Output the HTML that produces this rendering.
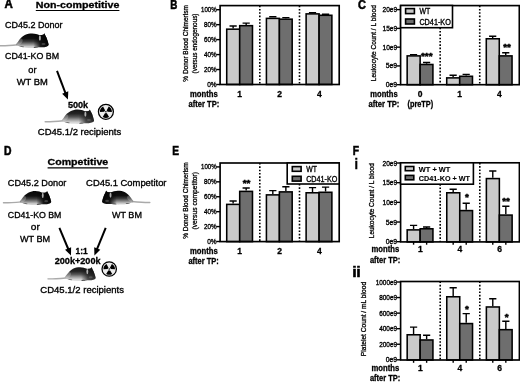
<!DOCTYPE html>
<html lang="en">
<head>
<meta charset="utf-8">
<title>CD41-KO bone marrow transplantation: non-competitive and competitive</title>
<style>
html,body{margin:0;padding:0;background:#fff;}
body{width:520px;height:382px;overflow:hidden;}
svg{display:block;filter:blur(0.42px);}
svg text{font-family:"Liberation Sans", Arial, sans-serif;}
</style>
</head>
<body>
<svg width="520" height="382" viewBox="0 0 520 382">
<rect width="520" height="382" fill="#fff"/>
<defs>
<linearGradient id="mhead0" x1="0" y1="0" x2="1" y2="0"><stop offset="0" stop-color="#000" stop-opacity="0"/><stop offset="0.42" stop-color="#0a0a0a" stop-opacity="0.9"/><stop offset="1" stop-color="#000" stop-opacity="1"/></linearGradient>
<linearGradient id="mhead1" x1="0" y1="0" x2="1" y2="0"><stop offset="0" stop-color="#111" stop-opacity="0"/><stop offset="0.42" stop-color="#181818" stop-opacity="0.72"/><stop offset="1" stop-color="#101010" stop-opacity="0.88"/></linearGradient>
<clipPath id="mclip"><path d="M-0.30,11.40 C-0.35,10.65 1.05,9.17 1.90,8.00 C2.75,6.83 3.70,5.45 4.80,4.40 C5.90,3.35 7.27,2.37 8.50,1.70 C9.73,1.03 10.95,0.68 12.20,0.40 C13.45,0.12 14.75,-0.03 16.00,0.00 C17.25,0.03 18.58,0.32 19.70,0.60 C20.82,0.88 21.72,1.52 22.70,1.70 C23.68,1.88 24.83,1.78 25.60,1.70 C26.37,1.62 26.88,1.50 27.30,1.20 C27.72,0.90 28.10,-0.10 28.10,-0.10 C28.10,-0.10 28.58,1.13 28.90,1.80 C29.22,2.47 29.63,3.07 30.00,3.90 C30.37,4.73 30.75,5.78 31.10,6.80 C31.45,7.82 31.90,9.18 32.10,10.00 C32.30,10.82 32.53,11.20 32.30,11.70 C32.07,12.20 31.58,12.65 30.70,13.00 C29.82,13.35 28.33,13.65 27.00,13.80 C25.67,13.95 24.15,13.78 22.70,13.90 C21.25,14.02 20.02,14.40 18.30,14.50 C16.58,14.60 14.35,14.62 12.40,14.50 C10.45,14.38 8.30,14.13 6.60,13.80 C4.90,13.47 3.35,12.90 2.20,12.50 C1.05,12.10 -0.25,12.15 -0.30,11.40 Z"/></clipPath>
<linearGradient id="mg0" x1="0" y1="0" x2="0" y2="1"><stop offset="0" stop-color="#060606"/><stop offset="0.36" stop-color="#101010"/><stop offset="0.56" stop-color="#3e3e3e"/><stop offset="0.74" stop-color="#848484"/><stop offset="0.9" stop-color="#c8c8c8"/><stop offset="1" stop-color="#dadada"/></linearGradient>
<g id="mouse0">
<path d="M-0.30,11.40 C-0.35,10.65 1.05,9.17 1.90,8.00 C2.75,6.83 3.70,5.45 4.80,4.40 C5.90,3.35 7.27,2.37 8.50,1.70 C9.73,1.03 10.95,0.68 12.20,0.40 C13.45,0.12 14.75,-0.03 16.00,0.00 C17.25,0.03 18.58,0.32 19.70,0.60 C20.82,0.88 21.72,1.52 22.70,1.70 C23.68,1.88 24.83,1.78 25.60,1.70 C26.37,1.62 26.88,1.50 27.30,1.20 C27.72,0.90 28.10,-0.10 28.10,-0.10 C28.10,-0.10 28.58,1.13 28.90,1.80 C29.22,2.47 29.63,3.07 30.00,3.90 C30.37,4.73 30.75,5.78 31.10,6.80 C31.45,7.82 31.90,9.18 32.10,10.00 C32.30,10.82 32.53,11.20 32.30,11.70 C32.07,12.20 31.58,12.65 30.70,13.00 C29.82,13.35 28.33,13.65 27.00,13.80 C25.67,13.95 24.15,13.78 22.70,13.90 C21.25,14.02 20.02,14.40 18.30,14.50 C16.58,14.60 14.35,14.62 12.40,14.50 C10.45,14.38 8.30,14.13 6.60,13.80 C4.90,13.47 3.35,12.90 2.20,12.50 C1.05,12.10 -0.25,12.15 -0.30,11.40 Z" fill="url(#mg0)"/>
<g clip-path="url(#mclip)">
<rect x="17" y="-1" width="17" height="17" fill="url(#mhead0)"/>
<ellipse cx="5.2" cy="13.6" rx="2.6" ry="0.8" fill="#2a2a2a" opacity="0.75"/>
<ellipse cx="19.5" cy="14.0" rx="2.2" ry="0.7" fill="#2a2a2a" opacity="0.7"/>
<ellipse cx="23.6" cy="4.6" rx="1.0" ry="2.7" fill="#c0c0c0" opacity="0.9"/>
<ellipse cx="3.2" cy="8.2" rx="2.6" ry="3.6" fill="#fff" opacity="0.22" transform="rotate(38 3.2 8.2)"/>
<ellipse cx="27.2" cy="10.6" rx="2.0" ry="1.1" fill="#888" opacity="0.4"/>
</g></g>
<linearGradient id="mg1" x1="0" y1="0" x2="0" y2="1"><stop offset="0" stop-color="#141414"/><stop offset="0.3" stop-color="#242424"/><stop offset="0.52" stop-color="#555"/><stop offset="0.7" stop-color="#999"/><stop offset="0.88" stop-color="#d4d4d4"/><stop offset="1" stop-color="#e2e2e2"/></linearGradient>
<g id="mouse1">
<path d="M-0.30,11.40 C-0.35,10.65 1.05,9.17 1.90,8.00 C2.75,6.83 3.70,5.45 4.80,4.40 C5.90,3.35 7.27,2.37 8.50,1.70 C9.73,1.03 10.95,0.68 12.20,0.40 C13.45,0.12 14.75,-0.03 16.00,0.00 C17.25,0.03 18.58,0.32 19.70,0.60 C20.82,0.88 21.72,1.52 22.70,1.70 C23.68,1.88 24.83,1.78 25.60,1.70 C26.37,1.62 26.88,1.50 27.30,1.20 C27.72,0.90 28.10,-0.10 28.10,-0.10 C28.10,-0.10 28.58,1.13 28.90,1.80 C29.22,2.47 29.63,3.07 30.00,3.90 C30.37,4.73 30.75,5.78 31.10,6.80 C31.45,7.82 31.90,9.18 32.10,10.00 C32.30,10.82 32.53,11.20 32.30,11.70 C32.07,12.20 31.58,12.65 30.70,13.00 C29.82,13.35 28.33,13.65 27.00,13.80 C25.67,13.95 24.15,13.78 22.70,13.90 C21.25,14.02 20.02,14.40 18.30,14.50 C16.58,14.60 14.35,14.62 12.40,14.50 C10.45,14.38 8.30,14.13 6.60,13.80 C4.90,13.47 3.35,12.90 2.20,12.50 C1.05,12.10 -0.25,12.15 -0.30,11.40 Z" fill="url(#mg1)"/>
<g clip-path="url(#mclip)">
<rect x="17" y="-1" width="17" height="17" fill="url(#mhead1)"/>
<ellipse cx="5.2" cy="13.6" rx="2.6" ry="0.8" fill="#2a2a2a" opacity="0.75"/>
<ellipse cx="19.5" cy="14.0" rx="2.2" ry="0.7" fill="#2a2a2a" opacity="0.7"/>
<ellipse cx="23.6" cy="4.6" rx="1.0" ry="2.7" fill="#c0c0c0" opacity="0.9"/>
<ellipse cx="3.2" cy="8.2" rx="2.6" ry="3.6" fill="#fff" opacity="0.22" transform="rotate(38 3.2 8.2)"/>
<ellipse cx="27.2" cy="10.6" rx="2.0" ry="1.1" fill="#888" opacity="0.4"/>
</g></g>
</defs>
<text x="4.40" y="8.30" font-size="12.2" stroke="#000" stroke-width="0.55" font-weight="bold" textLength="8.30" lengthAdjust="spacingAndGlyphs">A</text>
<text x="170.30" y="8.60" font-size="12.2" stroke="#000" stroke-width="0.55" font-weight="bold" textLength="7.10" lengthAdjust="spacingAndGlyphs">B</text>
<text x="358.00" y="9.10" font-size="12.2" stroke="#000" stroke-width="0.55" font-weight="bold" textLength="7.90" lengthAdjust="spacingAndGlyphs">C</text>
<text x="3.90" y="154.80" font-size="12.2" stroke="#000" stroke-width="0.55" font-weight="bold" textLength="7.50" lengthAdjust="spacingAndGlyphs">D</text>
<text x="172.30" y="154.90" font-size="12.2" stroke="#000" stroke-width="0.55" font-weight="bold" textLength="6.80" lengthAdjust="spacingAndGlyphs">E</text>
<text x="352.80" y="154.80" font-size="12.2" stroke="#000" stroke-width="0.55" font-weight="bold" textLength="6.30" lengthAdjust="spacingAndGlyphs">F</text>
<text x="354.70" y="169.40" font-size="14.6" stroke="#000" stroke-width="0.7" font-weight="bold" textLength="3.10" lengthAdjust="spacingAndGlyphs">i</text>
<text x="352.50" y="276.80" font-size="14.6" stroke="#000" stroke-width="0.7" font-weight="bold" textLength="7.90" lengthAdjust="spacingAndGlyphs">ii</text>
<text x="35.80" y="7.90" font-size="9.8" stroke="#000" stroke-width="0.3" font-weight="bold" textLength="83.60" lengthAdjust="spacingAndGlyphs">Non-competitive</text>
<line x1="35.8" y1="10.45" x2="119.4" y2="10.45" stroke="#000" stroke-width="1.1"/>
<text x="5.00" y="27.90" font-size="9.5" stroke="#000" stroke-width="0.34" textLength="57.50" lengthAdjust="spacingAndGlyphs">CD45.2 Donor</text>
<g transform="translate(0.00 33.40) scale(1.000)">
<path d="M0.2,12.3 C5,12.5 11,12.0 17.80,11.3" fill="none" stroke="#aaa" stroke-width="1.5" stroke-linecap="round"/>
<use href="#mouse0" x="16.30" y="0"/>
</g>
<text x="5.00" y="59.00" font-size="9.5" stroke="#000" stroke-width="0.34" textLength="54.10" lengthAdjust="spacingAndGlyphs">CD41-KO BM</text>
<text x="28.30" y="72.60" font-size="9.5" stroke="#000" stroke-width="0.34" textLength="8.20" lengthAdjust="spacingAndGlyphs">or</text>
<text x="16.70" y="85.20" font-size="9.5" stroke="#000" stroke-width="0.34" textLength="31.10" lengthAdjust="spacingAndGlyphs">WT BM</text>
<line x1="57.00" y1="70.80" x2="65.56" y2="93.43" stroke="#000" stroke-width="2.0"/>
<polygon points="67.90,99.60 62.12,93.66 68.30,91.32" fill="#000"/>
<text x="67.90" y="107.60" font-size="9.3" stroke="#000" stroke-width="0.3" font-weight="bold" textLength="20.30" lengthAdjust="spacingAndGlyphs">500k</text>
<g transform="translate(45.00 109.50) scale(0.990)">
<path d="M0.2,12.3 C5,12.5 11,12.0 18.70,11.3" fill="none" stroke="#aaa" stroke-width="1.5" stroke-linecap="round"/>
<use href="#mouse1" x="17.20" y="0"/>
</g>
<circle cx="105.9" cy="111.8" r="7.50" fill="#ececec" stroke="#000" stroke-width="1.25"/>
<path d="M106.72,113.11 L109.08,116.88 A5.99,5.99 0 0 1 102.72,116.88 L105.08,113.11 A1.54,1.54 0 0 0 106.72,113.11 Z" fill="#000"/>
<path d="M106.62,110.44 L108.71,106.51 A5.99,5.99 0 0 1 111.89,112.01 L107.44,111.85 A1.54,1.54 0 0 0 106.62,110.44 Z" fill="#000"/>
<path d="M104.36,111.85 L99.91,112.01 A5.99,5.99 0 0 1 103.09,106.51 L105.18,110.44 A1.54,1.54 0 0 0 104.36,111.85 Z" fill="#000"/>
<circle cx="105.9" cy="111.8" r="0.81" fill="#000"/>
<text x="37.80" y="134.50" font-size="9.5" stroke="#000" stroke-width="0.34" textLength="83.40" lengthAdjust="spacingAndGlyphs">CD45.1/2 recipients</text>
<text x="47.60" y="164.90" font-size="9.8" stroke="#000" stroke-width="0.3" font-weight="bold" textLength="60.60" lengthAdjust="spacingAndGlyphs">Competitive</text>
<line x1="47.6" y1="167.9" x2="108.2" y2="167.9" stroke="#000" stroke-width="1.1"/>
<text x="7.80" y="185.80" font-size="9.5" stroke="#000" stroke-width="0.34" textLength="58.50" lengthAdjust="spacingAndGlyphs">CD45.2 Donor</text>
<text x="86.10" y="185.80" font-size="9.5" stroke="#000" stroke-width="0.34" textLength="80.40" lengthAdjust="spacingAndGlyphs">CD45.1 Competitor</text>
<g transform="translate(3.30 191.00) scale(0.960)">
<path d="M0.2,12.3 C5,12.5 11,12.0 19.00,11.3" fill="none" stroke="#aaa" stroke-width="1.5" stroke-linecap="round"/>
<use href="#mouse0" x="17.50" y="0"/>
</g>
<g transform="translate(150.00 190.70) scale(-0.960 0.960)">
<path d="M0.2,12.3 C5,12.5 11,12.0 19.00,11.3" fill="none" stroke="#aaa" stroke-width="1.5" stroke-linecap="round"/>
<use href="#mouse0" x="17.50" y="0"/>
</g>
<text x="7.80" y="217.70" font-size="9.5" stroke="#000" stroke-width="0.34" textLength="53.60" lengthAdjust="spacingAndGlyphs">CD41-KO BM</text>
<text x="112.00" y="217.60" font-size="9.5" stroke="#000" stroke-width="0.34" textLength="29.90" lengthAdjust="spacingAndGlyphs">WT BM</text>
<text x="30.80" y="229.80" font-size="9.5" stroke="#000" stroke-width="0.34" textLength="9.00" lengthAdjust="spacingAndGlyphs">or</text>
<text x="19.90" y="241.90" font-size="9.5" stroke="#000" stroke-width="0.34" textLength="30.30" lengthAdjust="spacingAndGlyphs">WT BM</text>
<line x1="59.40" y1="227.80" x2="68.46" y2="249.51" stroke="#000" stroke-width="2.0"/>
<polygon points="71.00,255.60 65.03,249.86 71.12,247.32" fill="#000"/>
<line x1="105.70" y1="227.80" x2="96.89" y2="249.49" stroke="#000" stroke-width="2.0"/>
<polygon points="94.40,255.60 94.20,247.32 100.32,249.80" fill="#000"/>
<text x="75.50" y="253.70" font-size="9.3" stroke="#000" stroke-width="0.3" font-weight="bold" textLength="12.10" lengthAdjust="spacingAndGlyphs">1:1</text>
<text x="54.70" y="264.10" font-size="9.3" stroke="#000" stroke-width="0.3" font-weight="bold" textLength="45.90" lengthAdjust="spacingAndGlyphs">200k+200k</text>
<g transform="translate(47.80 267.20) scale(0.950)">
<path d="M0.2,12.3 C5,12.5 11,12.0 19.50,11.3" fill="none" stroke="#aaa" stroke-width="1.5" stroke-linecap="round"/>
<use href="#mouse1" x="18.00" y="0"/>
</g>
<circle cx="109.2" cy="269.0" r="7.20" fill="#ececec" stroke="#000" stroke-width="1.25"/>
<path d="M109.99,270.26 L112.26,273.89 A5.77,5.77 0 0 1 106.14,273.89 L108.41,270.26 A1.48,1.48 0 0 0 109.99,270.26 Z" fill="#000"/>
<path d="M109.90,267.69 L111.91,263.90 A5.77,5.77 0 0 1 114.97,269.20 L110.68,269.05 A1.48,1.48 0 0 0 109.90,267.69 Z" fill="#000"/>
<path d="M107.72,269.05 L103.43,269.20 A5.77,5.77 0 0 1 106.49,263.90 L108.50,267.69 A1.48,1.48 0 0 0 107.72,269.05 Z" fill="#000"/>
<circle cx="109.2" cy="269.0" r="0.78" fill="#000"/>
<text x="40.30" y="292.60" font-size="9.5" stroke="#000" stroke-width="0.34" textLength="83.70" lengthAdjust="spacingAndGlyphs">CD45.1/2 recipients</text>
<line x1="259.80" y1="5.60" x2="259.80" y2="84.50" stroke="#000" stroke-width="1.6" stroke-dasharray="1.6 1.72"/>
<line x1="299.50" y1="5.60" x2="299.50" y2="84.50" stroke="#000" stroke-width="1.6" stroke-dasharray="1.6 1.72"/>
<path d="M233.12,28.40 V26.00 M229.53,26.00 H236.72" stroke="#000" stroke-width="1.4" fill="none"/>
<rect x="226.72" y="29.17" width="12.97" height="55.33" fill="#cacaca" stroke="#000" stroke-width="1.55"/>
<path d="M246.17,24.90 V23.10 M242.57,23.10 H249.77" stroke="#000" stroke-width="1.4" fill="none"/>
<rect x="239.70" y="25.67" width="12.78" height="58.83" fill="#6e6e6e" stroke="#000" stroke-width="1.55"/>
<path d="M272.82,17.60 V16.80 M269.22,16.80 H276.43" stroke="#000" stroke-width="1.4" fill="none"/>
<rect x="266.42" y="18.38" width="12.98" height="66.12" fill="#cacaca" stroke="#000" stroke-width="1.55"/>
<path d="M285.87,18.40 V17.60 M282.27,17.60 H289.47" stroke="#000" stroke-width="1.4" fill="none"/>
<rect x="279.40" y="19.17" width="12.78" height="65.32" fill="#6e6e6e" stroke="#000" stroke-width="1.55"/>
<path d="M312.52,13.10 V12.70 M308.92,12.70 H316.12" stroke="#000" stroke-width="1.4" fill="none"/>
<rect x="306.12" y="13.88" width="12.98" height="70.62" fill="#cacaca" stroke="#000" stroke-width="1.55"/>
<path d="M325.57,14.50 V14.30 M321.97,14.30 H329.18" stroke="#000" stroke-width="1.4" fill="none"/>
<rect x="319.10" y="15.28" width="12.78" height="69.22" fill="#6e6e6e" stroke="#000" stroke-width="1.55"/>
<rect x="220.10" y="5.60" width="119.10" height="78.90" fill="none" stroke="#000" stroke-width="1.65"/>
<line x1="216.30" y1="84.50" x2="220.10" y2="84.50" stroke="#000" stroke-width="1.4"/>
<text x="207.20" y="87.02" font-size="7.0" stroke="#000" stroke-width="0.34" textLength="9.40" lengthAdjust="spacingAndGlyphs">0%</text>
<line x1="216.30" y1="69.54" x2="220.10" y2="69.54" stroke="#000" stroke-width="1.4"/>
<text x="204.00" y="72.06" font-size="7.0" stroke="#000" stroke-width="0.34" textLength="12.60" lengthAdjust="spacingAndGlyphs">20%</text>
<line x1="216.30" y1="54.58" x2="220.10" y2="54.58" stroke="#000" stroke-width="1.4"/>
<text x="204.00" y="57.10" font-size="7.0" stroke="#000" stroke-width="0.34" textLength="12.60" lengthAdjust="spacingAndGlyphs">40%</text>
<line x1="216.30" y1="39.62" x2="220.10" y2="39.62" stroke="#000" stroke-width="1.4"/>
<text x="204.00" y="42.14" font-size="7.0" stroke="#000" stroke-width="0.34" textLength="12.60" lengthAdjust="spacingAndGlyphs">60%</text>
<line x1="216.30" y1="24.66" x2="220.10" y2="24.66" stroke="#000" stroke-width="1.4"/>
<text x="204.00" y="27.18" font-size="7.0" stroke="#000" stroke-width="0.34" textLength="12.60" lengthAdjust="spacingAndGlyphs">80%</text>
<line x1="216.30" y1="9.70" x2="220.10" y2="9.70" stroke="#000" stroke-width="1.4"/>
<text x="201.00" y="12.22" font-size="7.0" stroke="#000" stroke-width="0.34" textLength="15.60" lengthAdjust="spacingAndGlyphs">100%</text>
<text x="188.00" y="81.70" font-size="7.3" stroke="#000" stroke-width="0.3" textLength="76.50" lengthAdjust="spacingAndGlyphs" transform="rotate(-90 188.00 81.70)">% Donor Blood Chimerism</text>
<text x="197.00" y="73.40" font-size="7.3" stroke="#000" stroke-width="0.3" textLength="59.90" lengthAdjust="spacingAndGlyphs" transform="rotate(-90 197.00 73.40)">(versus endogenous)</text>
<line x1="440.17" y1="27.70" x2="440.17" y2="84.70" stroke="#000" stroke-width="1.6" stroke-dasharray="1.6 1.72"/>
<line x1="479.73" y1="5.60" x2="479.73" y2="84.70" stroke="#000" stroke-width="1.6" stroke-dasharray="1.6 1.72"/>
<path d="M413.56,55.10 V54.60 M409.96,54.60 H417.16" stroke="#000" stroke-width="1.4" fill="none"/>
<rect x="407.16" y="55.88" width="12.98" height="28.83" fill="#cacaca" stroke="#000" stroke-width="1.55"/>
<path d="M426.61,63.70 V62.50 M423.01,62.50 H430.21" stroke="#000" stroke-width="1.4" fill="none"/>
<rect x="420.13" y="64.48" width="12.78" height="20.23" fill="#6e6e6e" stroke="#000" stroke-width="1.55"/>
<path d="M453.12,77.10 V75.20 M449.52,75.20 H456.73" stroke="#000" stroke-width="1.4" fill="none"/>
<rect x="446.72" y="77.88" width="12.98" height="6.83" fill="#cacaca" stroke="#000" stroke-width="1.55"/>
<path d="M466.18,75.50 V74.40 M462.57,74.40 H469.78" stroke="#000" stroke-width="1.4" fill="none"/>
<rect x="459.70" y="76.28" width="12.78" height="8.43" fill="#6e6e6e" stroke="#000" stroke-width="1.55"/>
<path d="M492.69,38.00 V36.30 M489.09,36.30 H496.29" stroke="#000" stroke-width="1.4" fill="none"/>
<rect x="486.29" y="38.77" width="12.98" height="45.93" fill="#cacaca" stroke="#000" stroke-width="1.55"/>
<path d="M505.74,55.10 V52.70 M502.14,52.70 H509.34" stroke="#000" stroke-width="1.4" fill="none"/>
<rect x="499.27" y="55.88" width="12.77" height="28.83" fill="#6e6e6e" stroke="#000" stroke-width="1.55"/>
<rect x="400.60" y="5.60" width="118.70" height="79.10" fill="none" stroke="#000" stroke-width="1.65"/>
<line x1="396.80" y1="84.70" x2="400.60" y2="84.70" stroke="#000" stroke-width="1.4"/>
<text x="385.70" y="87.22" font-size="7.0" stroke="#000" stroke-width="0.34" textLength="11.40" lengthAdjust="spacingAndGlyphs">0e9</text>
<line x1="396.80" y1="65.92" x2="400.60" y2="65.92" stroke="#000" stroke-width="1.4"/>
<text x="385.70" y="68.44" font-size="7.0" stroke="#000" stroke-width="0.34" textLength="11.40" lengthAdjust="spacingAndGlyphs">5e9</text>
<line x1="396.80" y1="47.15" x2="400.60" y2="47.15" stroke="#000" stroke-width="1.4"/>
<text x="382.50" y="49.67" font-size="7.0" stroke="#000" stroke-width="0.34" textLength="14.60" lengthAdjust="spacingAndGlyphs">10e9</text>
<line x1="396.80" y1="28.38" x2="400.60" y2="28.38" stroke="#000" stroke-width="1.4"/>
<text x="382.50" y="30.89" font-size="7.0" stroke="#000" stroke-width="0.34" textLength="14.60" lengthAdjust="spacingAndGlyphs">15e9</text>
<line x1="396.80" y1="9.60" x2="400.60" y2="9.60" stroke="#000" stroke-width="1.4"/>
<text x="382.50" y="12.12" font-size="7.0" stroke="#000" stroke-width="0.34" textLength="14.60" lengthAdjust="spacingAndGlyphs">20e9</text>
<rect x="400.60" y="5.50" width="51.90" height="22.20" fill="#fff" stroke="#000" stroke-width="1.6"/>
<rect x="405.60" y="8.60" width="8.80" height="5.00" fill="#cacaca" stroke="#000" stroke-width="1.6"/>
<text x="419.40" y="14.20" font-size="8.2" stroke="#000" stroke-width="0.34" textLength="10.80" lengthAdjust="spacingAndGlyphs">WT</text>
<rect x="405.60" y="19.00" width="8.80" height="5.00" fill="#6e6e6e" stroke="#000" stroke-width="1.6"/>
<text x="419.40" y="24.80" font-size="8.2" stroke="#000" stroke-width="0.34" textLength="31.40" lengthAdjust="spacingAndGlyphs">CD41-KO</text>
<text x="376.40" y="81.20" font-size="7.3" stroke="#000" stroke-width="0.3" textLength="76.00" lengthAdjust="spacingAndGlyphs" transform="rotate(-90 376.40 81.20)">Leukocyte Count / L blood</text>
<text x="426.80" y="58.90" font-size="9.9" stroke="#000" stroke-width="0.55" font-weight="bold" text-anchor="middle">***</text>
<text x="507.00" y="49.60" font-size="9.9" stroke="#000" stroke-width="0.55" font-weight="bold" text-anchor="middle">**</text>
<text x="189.90" y="96.70" font-size="8.8" stroke="#000" stroke-width="0.3" font-weight="bold" textLength="27.80" lengthAdjust="spacingAndGlyphs">months</text>
<text x="188.60" y="107.40" font-size="8.8" stroke="#000" stroke-width="0.3" font-weight="bold" textLength="30.60" lengthAdjust="spacingAndGlyphs">after TP:</text>
<text x="370.30" y="96.70" font-size="8.8" stroke="#000" stroke-width="0.3" font-weight="bold" textLength="27.40" lengthAdjust="spacingAndGlyphs">months</text>
<text x="368.50" y="107.40" font-size="8.8" stroke="#000" stroke-width="0.3" font-weight="bold" textLength="30.90" lengthAdjust="spacingAndGlyphs">after TP:</text>
<text x="239.70" y="96.70" font-size="8.5" stroke="#000" stroke-width="0.3" font-weight="bold" text-anchor="middle">1</text>
<text x="279.60" y="96.70" font-size="8.5" stroke="#000" stroke-width="0.3" font-weight="bold" text-anchor="middle">2</text>
<text x="319.40" y="96.70" font-size="8.5" stroke="#000" stroke-width="0.3" font-weight="bold" text-anchor="middle">4</text>
<text x="420.20" y="96.70" font-size="8.5" stroke="#000" stroke-width="0.3" font-weight="bold" text-anchor="middle">0</text>
<text x="459.60" y="96.70" font-size="8.5" stroke="#000" stroke-width="0.3" font-weight="bold" text-anchor="middle">1</text>
<text x="499.30" y="96.70" font-size="8.5" stroke="#000" stroke-width="0.3" font-weight="bold" text-anchor="middle">4</text>
<text x="407.50" y="107.40" font-size="8.8" stroke="#000" stroke-width="0.3" font-weight="bold" textLength="25.70" lengthAdjust="spacingAndGlyphs">(preTP)</text>
<line x1="259.80" y1="163.00" x2="259.80" y2="241.60" stroke="#000" stroke-width="1.6" stroke-dasharray="1.6 1.72"/>
<line x1="299.50" y1="184.00" x2="299.50" y2="241.60" stroke="#000" stroke-width="1.6" stroke-dasharray="1.6 1.72"/>
<path d="M233.12,203.60 V201.00 M229.53,201.00 H236.72" stroke="#000" stroke-width="1.4" fill="none"/>
<rect x="226.72" y="204.38" width="12.97" height="37.23" fill="#cacaca" stroke="#000" stroke-width="1.55"/>
<path d="M246.17,190.60 V188.00 M242.57,188.00 H249.77" stroke="#000" stroke-width="1.4" fill="none"/>
<rect x="239.70" y="191.38" width="12.78" height="50.23" fill="#6e6e6e" stroke="#000" stroke-width="1.55"/>
<path d="M272.82,194.10 V190.60 M269.22,190.60 H276.43" stroke="#000" stroke-width="1.4" fill="none"/>
<rect x="266.42" y="194.88" width="12.98" height="46.73" fill="#cacaca" stroke="#000" stroke-width="1.55"/>
<path d="M285.87,191.10 V186.80 M282.27,186.80 H289.47" stroke="#000" stroke-width="1.4" fill="none"/>
<rect x="279.40" y="191.88" width="12.78" height="49.73" fill="#6e6e6e" stroke="#000" stroke-width="1.55"/>
<path d="M312.52,192.00 V187.60 M308.92,187.60 H316.12" stroke="#000" stroke-width="1.4" fill="none"/>
<rect x="306.12" y="192.78" width="12.98" height="48.82" fill="#cacaca" stroke="#000" stroke-width="1.55"/>
<path d="M325.57,191.50 V187.10 M321.97,187.10 H329.18" stroke="#000" stroke-width="1.4" fill="none"/>
<rect x="319.10" y="192.28" width="12.78" height="49.32" fill="#6e6e6e" stroke="#000" stroke-width="1.55"/>
<rect x="220.10" y="163.00" width="119.10" height="78.60" fill="none" stroke="#000" stroke-width="1.65"/>
<line x1="216.30" y1="241.50" x2="220.10" y2="241.50" stroke="#000" stroke-width="1.4"/>
<text x="207.20" y="244.02" font-size="7.0" stroke="#000" stroke-width="0.34" textLength="9.40" lengthAdjust="spacingAndGlyphs">0%</text>
<line x1="216.30" y1="226.58" x2="220.10" y2="226.58" stroke="#000" stroke-width="1.4"/>
<text x="204.00" y="229.10" font-size="7.0" stroke="#000" stroke-width="0.34" textLength="12.60" lengthAdjust="spacingAndGlyphs">20%</text>
<line x1="216.30" y1="211.66" x2="220.10" y2="211.66" stroke="#000" stroke-width="1.4"/>
<text x="204.00" y="214.18" font-size="7.0" stroke="#000" stroke-width="0.34" textLength="12.60" lengthAdjust="spacingAndGlyphs">40%</text>
<line x1="216.30" y1="196.74" x2="220.10" y2="196.74" stroke="#000" stroke-width="1.4"/>
<text x="204.00" y="199.26" font-size="7.0" stroke="#000" stroke-width="0.34" textLength="12.60" lengthAdjust="spacingAndGlyphs">60%</text>
<line x1="216.30" y1="181.82" x2="220.10" y2="181.82" stroke="#000" stroke-width="1.4"/>
<text x="204.00" y="184.34" font-size="7.0" stroke="#000" stroke-width="0.34" textLength="12.60" lengthAdjust="spacingAndGlyphs">80%</text>
<line x1="216.30" y1="166.90" x2="220.10" y2="166.90" stroke="#000" stroke-width="1.4"/>
<text x="201.00" y="169.42" font-size="7.0" stroke="#000" stroke-width="0.34" textLength="15.60" lengthAdjust="spacingAndGlyphs">100%</text>
<rect x="287.20" y="163.00" width="52.00" height="21.00" fill="#fff" stroke="#000" stroke-width="1.6"/>
<rect x="292.30" y="166.60" width="8.80" height="4.70" fill="#cacaca" stroke="#000" stroke-width="1.6"/>
<text x="306.20" y="171.70" font-size="8.2" stroke="#000" stroke-width="0.34" textLength="10.70" lengthAdjust="spacingAndGlyphs">WT</text>
<rect x="292.30" y="176.30" width="8.80" height="4.80" fill="#6e6e6e" stroke="#000" stroke-width="1.6"/>
<text x="306.20" y="181.80" font-size="8.2" stroke="#000" stroke-width="0.34" textLength="31.10" lengthAdjust="spacingAndGlyphs">CD41-KO</text>
<text x="188.00" y="238.80" font-size="7.3" stroke="#000" stroke-width="0.3" textLength="76.60" lengthAdjust="spacingAndGlyphs" transform="rotate(-90 188.00 238.80)">% Donor Blood Chimerism</text>
<text x="197.10" y="229.50" font-size="7.3" stroke="#000" stroke-width="0.3" textLength="57.50" lengthAdjust="spacingAndGlyphs" transform="rotate(-90 197.10 229.50)">(versus competitor)</text>
<text x="246.60" y="185.60" font-size="9.9" stroke="#000" stroke-width="0.55" font-weight="bold" text-anchor="middle">**</text>
<text x="189.90" y="254.00" font-size="8.8" stroke="#000" stroke-width="0.3" font-weight="bold" textLength="27.80" lengthAdjust="spacingAndGlyphs">months</text>
<text x="188.40" y="264.40" font-size="8.8" stroke="#000" stroke-width="0.3" font-weight="bold" textLength="30.40" lengthAdjust="spacingAndGlyphs">after TP:</text>
<text x="239.70" y="254.00" font-size="8.5" stroke="#000" stroke-width="0.3" font-weight="bold" text-anchor="middle">1</text>
<text x="279.60" y="254.00" font-size="8.5" stroke="#000" stroke-width="0.3" font-weight="bold" text-anchor="middle">2</text>
<text x="319.40" y="254.00" font-size="8.5" stroke="#000" stroke-width="0.3" font-weight="bold" text-anchor="middle">4</text>
<line x1="440.20" y1="184.20" x2="440.20" y2="241.90" stroke="#000" stroke-width="1.6" stroke-dasharray="1.6 1.72"/>
<line x1="479.80" y1="162.80" x2="479.80" y2="241.90" stroke="#000" stroke-width="1.6" stroke-dasharray="1.6 1.72"/>
<path d="M413.58,229.10 V225.40 M409.98,225.40 H417.18" stroke="#000" stroke-width="1.4" fill="none"/>
<rect x="407.18" y="229.88" width="12.98" height="12.03" fill="#cacaca" stroke="#000" stroke-width="1.55"/>
<line x1="413.58" y1="241.90" x2="413.58" y2="244.70" stroke="#000" stroke-width="1.4"/>
<path d="M426.63,228.00 V227.00 M423.03,227.00 H430.23" stroke="#000" stroke-width="1.4" fill="none"/>
<rect x="420.15" y="228.78" width="12.78" height="13.13" fill="#6e6e6e" stroke="#000" stroke-width="1.55"/>
<line x1="426.63" y1="241.90" x2="426.63" y2="244.70" stroke="#000" stroke-width="1.4"/>
<path d="M453.18,192.00 V189.20 M449.57,189.20 H456.78" stroke="#000" stroke-width="1.4" fill="none"/>
<rect x="446.77" y="192.78" width="12.98" height="49.13" fill="#cacaca" stroke="#000" stroke-width="1.55"/>
<line x1="453.18" y1="241.90" x2="453.18" y2="244.70" stroke="#000" stroke-width="1.4"/>
<path d="M466.22,209.80 V203.30 M462.62,203.30 H469.82" stroke="#000" stroke-width="1.4" fill="none"/>
<rect x="459.75" y="210.58" width="12.78" height="31.32" fill="#6e6e6e" stroke="#000" stroke-width="1.55"/>
<line x1="466.22" y1="241.90" x2="466.22" y2="244.70" stroke="#000" stroke-width="1.4"/>
<path d="M492.78,177.80 V171.00 M489.18,171.00 H496.38" stroke="#000" stroke-width="1.4" fill="none"/>
<rect x="486.38" y="178.58" width="12.98" height="63.32" fill="#cacaca" stroke="#000" stroke-width="1.55"/>
<line x1="492.78" y1="241.90" x2="492.78" y2="244.70" stroke="#000" stroke-width="1.4"/>
<path d="M505.82,214.30 V206.30 M502.22,206.30 H509.43" stroke="#000" stroke-width="1.4" fill="none"/>
<rect x="499.35" y="215.08" width="12.77" height="26.82" fill="#6e6e6e" stroke="#000" stroke-width="1.55"/>
<line x1="505.82" y1="241.90" x2="505.82" y2="244.70" stroke="#000" stroke-width="1.4"/>
<rect x="400.60" y="162.80" width="118.80" height="79.10" fill="none" stroke="#000" stroke-width="1.65"/>
<line x1="396.80" y1="241.70" x2="400.60" y2="241.70" stroke="#000" stroke-width="1.4"/>
<text x="385.70" y="244.22" font-size="7.0" stroke="#000" stroke-width="0.34" textLength="11.40" lengthAdjust="spacingAndGlyphs">0e9</text>
<line x1="396.80" y1="222.02" x2="400.60" y2="222.02" stroke="#000" stroke-width="1.4"/>
<text x="385.70" y="224.54" font-size="7.0" stroke="#000" stroke-width="0.34" textLength="11.40" lengthAdjust="spacingAndGlyphs">5e9</text>
<line x1="396.80" y1="202.35" x2="400.60" y2="202.35" stroke="#000" stroke-width="1.4"/>
<text x="382.50" y="204.87" font-size="7.0" stroke="#000" stroke-width="0.34" textLength="14.60" lengthAdjust="spacingAndGlyphs">10e9</text>
<line x1="396.80" y1="182.68" x2="400.60" y2="182.68" stroke="#000" stroke-width="1.4"/>
<text x="382.50" y="185.20" font-size="7.0" stroke="#000" stroke-width="0.34" textLength="14.60" lengthAdjust="spacingAndGlyphs">15e9</text>
<line x1="396.80" y1="163.00" x2="400.60" y2="163.00" stroke="#000" stroke-width="1.4"/>
<text x="382.50" y="165.52" font-size="7.0" stroke="#000" stroke-width="0.34" textLength="14.60" lengthAdjust="spacingAndGlyphs">20e9</text>
<rect x="400.60" y="162.80" width="72.80" height="21.40" fill="#fff" stroke="#000" stroke-width="1.6"/>
<rect x="405.30" y="166.50" width="8.50" height="4.20" fill="#cacaca" stroke="#000" stroke-width="1.6"/>
<text x="418.80" y="171.50" font-size="7.8" stroke="#000" stroke-width="0.12" font-weight="bold" textLength="31.50" lengthAdjust="spacingAndGlyphs">WT + WT</text>
<rect x="405.30" y="175.40" width="8.50" height="4.40" fill="#6e6e6e" stroke="#000" stroke-width="1.6"/>
<text x="418.80" y="180.60" font-size="7.8" stroke="#000" stroke-width="0.12" font-weight="bold" textLength="51.20" lengthAdjust="spacingAndGlyphs">CD41-KO + WT</text>
<text x="373.90" y="238.20" font-size="7.3" stroke="#000" stroke-width="0.3" textLength="75.00" lengthAdjust="spacingAndGlyphs" transform="rotate(-90 373.90 238.20)">Leukocyte Count / L blood</text>
<text x="466.90" y="200.20" font-size="9.9" stroke="#000" stroke-width="0.55" font-weight="bold" text-anchor="middle">*</text>
<text x="506.10" y="204.10" font-size="9.9" stroke="#000" stroke-width="0.55" font-weight="bold" text-anchor="middle">**</text>
<text x="371.50" y="252.30" font-size="8.8" stroke="#000" stroke-width="0.3" font-weight="bold" textLength="27.70" lengthAdjust="spacingAndGlyphs">months</text>
<text x="369.90" y="262.50" font-size="8.8" stroke="#000" stroke-width="0.3" font-weight="bold" textLength="30.40" lengthAdjust="spacingAndGlyphs">after TP:</text>
<text x="420.30" y="252.30" font-size="8.5" stroke="#000" stroke-width="0.3" font-weight="bold" text-anchor="middle">1</text>
<text x="459.90" y="252.30" font-size="8.5" stroke="#000" stroke-width="0.3" font-weight="bold" text-anchor="middle">4</text>
<text x="499.60" y="252.30" font-size="8.5" stroke="#000" stroke-width="0.3" font-weight="bold" text-anchor="middle">6</text>
<line x1="440.20" y1="281.50" x2="440.20" y2="360.00" stroke="#000" stroke-width="1.6" stroke-dasharray="1.6 1.72"/>
<line x1="479.80" y1="281.50" x2="479.80" y2="360.00" stroke="#000" stroke-width="1.6" stroke-dasharray="1.6 1.72"/>
<path d="M413.58,334.00 V327.10 M409.98,327.10 H417.18" stroke="#000" stroke-width="1.4" fill="none"/>
<rect x="407.18" y="334.77" width="12.98" height="25.23" fill="#cacaca" stroke="#000" stroke-width="1.55"/>
<line x1="413.58" y1="360.00" x2="413.58" y2="362.80" stroke="#000" stroke-width="1.4"/>
<path d="M426.63,339.20 V335.30 M423.03,335.30 H430.23" stroke="#000" stroke-width="1.4" fill="none"/>
<rect x="420.15" y="339.97" width="12.78" height="20.03" fill="#6e6e6e" stroke="#000" stroke-width="1.55"/>
<line x1="426.63" y1="360.00" x2="426.63" y2="362.80" stroke="#000" stroke-width="1.4"/>
<path d="M453.18,296.00 V287.70 M449.57,287.70 H456.78" stroke="#000" stroke-width="1.4" fill="none"/>
<rect x="446.77" y="296.77" width="12.98" height="63.23" fill="#cacaca" stroke="#000" stroke-width="1.55"/>
<line x1="453.18" y1="360.00" x2="453.18" y2="362.80" stroke="#000" stroke-width="1.4"/>
<path d="M466.22,322.80 V313.60 M462.62,313.60 H469.82" stroke="#000" stroke-width="1.4" fill="none"/>
<rect x="459.75" y="323.57" width="12.78" height="36.42" fill="#6e6e6e" stroke="#000" stroke-width="1.55"/>
<line x1="466.22" y1="360.00" x2="466.22" y2="362.80" stroke="#000" stroke-width="1.4"/>
<path d="M492.78,306.20 V298.70 M489.18,298.70 H496.38" stroke="#000" stroke-width="1.4" fill="none"/>
<rect x="486.38" y="306.97" width="12.98" height="53.03" fill="#cacaca" stroke="#000" stroke-width="1.55"/>
<line x1="492.78" y1="360.00" x2="492.78" y2="362.80" stroke="#000" stroke-width="1.4"/>
<path d="M505.82,328.90 V321.20 M502.22,321.20 H509.43" stroke="#000" stroke-width="1.4" fill="none"/>
<rect x="499.35" y="329.67" width="12.77" height="30.33" fill="#6e6e6e" stroke="#000" stroke-width="1.55"/>
<line x1="505.82" y1="360.00" x2="505.82" y2="362.80" stroke="#000" stroke-width="1.4"/>
<rect x="400.60" y="281.50" width="118.80" height="78.50" fill="none" stroke="#000" stroke-width="1.65"/>
<line x1="396.80" y1="359.80" x2="400.60" y2="359.80" stroke="#000" stroke-width="1.4"/>
<text x="385.70" y="362.32" font-size="7.0" stroke="#000" stroke-width="0.34" textLength="11.40" lengthAdjust="spacingAndGlyphs">0e9</text>
<line x1="396.80" y1="344.24" x2="400.60" y2="344.24" stroke="#000" stroke-width="1.4"/>
<text x="379.20" y="346.76" font-size="7.0" stroke="#000" stroke-width="0.34" textLength="17.90" lengthAdjust="spacingAndGlyphs">200e9</text>
<line x1="396.80" y1="328.68" x2="400.60" y2="328.68" stroke="#000" stroke-width="1.4"/>
<text x="379.20" y="331.20" font-size="7.0" stroke="#000" stroke-width="0.34" textLength="17.90" lengthAdjust="spacingAndGlyphs">400e9</text>
<line x1="396.80" y1="313.12" x2="400.60" y2="313.12" stroke="#000" stroke-width="1.4"/>
<text x="379.20" y="315.64" font-size="7.0" stroke="#000" stroke-width="0.34" textLength="17.90" lengthAdjust="spacingAndGlyphs">600e9</text>
<line x1="396.80" y1="297.56" x2="400.60" y2="297.56" stroke="#000" stroke-width="1.4"/>
<text x="379.20" y="300.08" font-size="7.0" stroke="#000" stroke-width="0.34" textLength="17.90" lengthAdjust="spacingAndGlyphs">800e9</text>
<line x1="396.80" y1="282.00" x2="400.60" y2="282.00" stroke="#000" stroke-width="1.4"/>
<text x="375.70" y="284.52" font-size="7.0" stroke="#000" stroke-width="0.34" textLength="21.40" lengthAdjust="spacingAndGlyphs">1000e9</text>
<text x="366.00" y="356.20" font-size="7.3" stroke="#000" stroke-width="0.3" textLength="74.30" lengthAdjust="spacingAndGlyphs" transform="rotate(-90 366.00 356.20)">Platelet Count / mL blood</text>
<text x="466.90" y="312.30" font-size="9.9" stroke="#000" stroke-width="0.55" font-weight="bold" text-anchor="middle">*</text>
<text x="506.70" y="320.30" font-size="9.9" stroke="#000" stroke-width="0.55" font-weight="bold" text-anchor="middle">*</text>
<text x="371.50" y="371.10" font-size="8.8" stroke="#000" stroke-width="0.3" font-weight="bold" textLength="27.70" lengthAdjust="spacingAndGlyphs">months</text>
<text x="369.90" y="381.40" font-size="8.8" stroke="#000" stroke-width="0.3" font-weight="bold" textLength="30.40" lengthAdjust="spacingAndGlyphs">after TP:</text>
<text x="420.30" y="371.10" font-size="8.5" stroke="#000" stroke-width="0.3" font-weight="bold" text-anchor="middle">1</text>
<text x="459.90" y="371.10" font-size="8.5" stroke="#000" stroke-width="0.3" font-weight="bold" text-anchor="middle">4</text>
<text x="499.60" y="371.10" font-size="8.5" stroke="#000" stroke-width="0.3" font-weight="bold" text-anchor="middle">6</text>
</svg>
</body>
</html>
